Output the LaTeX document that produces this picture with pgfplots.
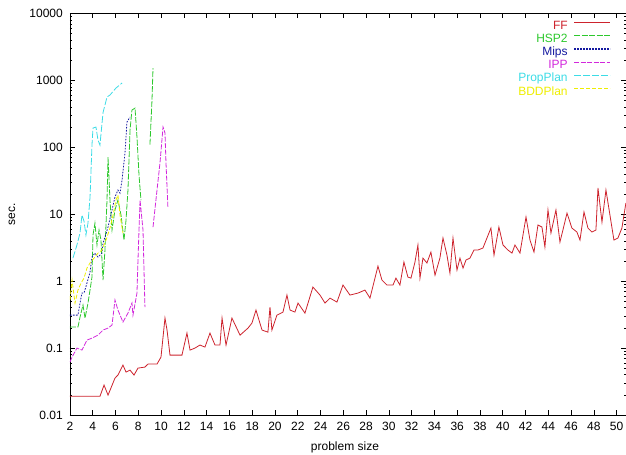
\documentclass[border=0pt]{standalone}
\usepackage{fontspec}
\setmainfont{Liberation Sans}
\usepackage{pgfplots}
\pgfplotsset{compat=1.18}
\definecolor{ffred}{RGB}{205,35,45}
\definecolor{hspgreen}{RGB}{45,200,45}
\definecolor{mipsblue}{RGB}{20,25,160}
\definecolor{ippmag}{RGB}{210,40,220}
\definecolor{propcyan}{RGB}{60,220,230}
\definecolor{bddyellow}{RGB}{238,238,0}
\begin{document}
\fontsize{12}{14}\selectfont
\begin{tikzpicture}
\begin{axis}[
  scale only axis,
  width=556pt, height=401.5pt,
  ymode=log,
  xmin=2, xmax=50.82, ymin=0.01, ymax=10000,
  xtick={2,4,...,50},
  log ticks with fixed point,
  /pgf/number format/1000 sep={},
  /pgf/number format/assume math mode=true,
  tick align=inside,
  major tick length=5pt, minor tick length=2.5pt,
  axis line style={line width=0.9pt},
  tick style={line width=0.7pt, black},
  tick label style={font=\fontsize{12}{14}\selectfont},
  xticklabel style={yshift=-3pt},
  yticklabel style={xshift=-3pt},
  xlabel={problem size},
  ylabel={sec.},
  xlabel style={at={(axis description cs:0.4946,-0.0797)}, anchor=center, font=\fontsize{12}{14}\selectfont},
  ylabel style={at={(axis description cs:-0.1043,0.5)}, anchor=center, font=\fontsize{12}{14}\selectfont},
  legend cell align=right,
  legend plot pos=right,
  legend image code/.code={\draw[#1, line width=1.1pt] (0pt,3.5pt) -- (36pt,3.5pt);},
  legend style={draw=none, fill=none, at={(0.978,0.99)}, anchor=north east,
    font=\fontsize{12}{14}\selectfont, row sep=0pt, column sep=5pt,
    nodes={inner sep=0.8pt, text height=9pt, text depth=2.5pt}},
  every axis plot/.append style={line width=0.8pt},
]
% FF
\addplot[color=ffred] coordinates {
(2,0.019) (4.63,0.019) (4.99,0.028) (5.34,0.0198) (5.95,0.0356) (6.21,0.0395)
(6.65,0.0557) (6.92,0.0438) (7.27,0.0469) (7.62,0.0395) (7.97,0.0502) (8.58,0.052)
(8.85,0.0577) (9.64,0.0577) (9.99,0.0733) (10.34,0.281) (10.52,0.186) (10.78,0.0785)
(11.83,0.0785) (12.27,0.1675) (12.54,0.0933) (12.97,0.1) (13.41,0.111) (13.85,0.1035)
(14.29,0.1675) (14.73,0.111) (15.17,0.111) (15.35,0.281) (15.70,0.111) (16.22,0.281)
(16.93,0.156) (17.63,0.199) (17.98,0.237) (18.33,0.37) (18.86,0.186) (19.38,0.173)
(19.56,0.41) (19.73,0.186) (20.17,0.311) (20.70,0.345) (21.05,0.62) (21.32,0.37)
(21.75,0.345) (22.02,0.471) (22.63,0.333) (23.33,0.817) (23.95,0.62) (24.39,0.471)
(24.83,0.558) (25.44,0.487) (25.97,0.875) (26.58,0.62) (27.29,0.664) (27.90,0.736)
(28.34,0.558) (29.04,1.68) (29.39,1.04) (29.83,0.875) (30.36,0.875) (30.62,1.11)
(30.97,0.875) (31.32,1.93) (31.67,1.15) (31.94,1.11) (32.29,1.93) (32.55,3.47)
(32.73,1.11) (32.99,2.21) (33.34,1.87) (33.69,2.72) (34.05,1.23) (34.48,2.21)
(34.75,4.41) (35.10,2.45) (35.36,1.32) (35.63,4.41) (35.98,1.47) (36.24,2.21)
(36.51,1.57) (36.77,2.07) (37.12,2.21) (37.47,2.92) (37.82,2.92) (38.26,3.13)
(38.61,4.41) (38.96,6.22) (39.23,2.45) (39.66,6.44) (40.02,3.47) (40.45,2.92)
(40.81,2.63) (41.07,3.47) (41.51,2.63) (42.04,9.08) (42.39,4.11) (42.74,2.72)
(43.09,6.90) (43.44,6.44) (43.70,3.24) (43.97,11.6) (44.23,5.24) (44.67,11.6)
(45.02,3.84) (45.28,5.81) (45.64,10.4) (46.07,6.22) (46.51,5.42) (46.78,4.11)
(47.13,10.8) (47.48,6.22) (47.83,5.42) (48.18,5.81) (48.36,24.7) (48.71,7.64)
(49.06,23.0) (49.41,9.73) (49.76,4.11) (50.11,4.41) (50.46,6.22) (50.81,14.7)
};
% HSP2
\addplot[color=hspgreen, dash pattern=on 6pt off 1.5pt] coordinates {
(2,0.206) (2.70,0.206) (2.88,0.29) (3.14,0.44) (3.32,0.28) (3.58,0.47) (3.76,0.74)
(3.93,1.15) (4.02,4.89) (4.19,7.38) (4.37,3.47) (4.55,5.81) (4.72,4.11) (4.90,1.04)
(5.07,2.92) (5.25,16.3) (5.34,71.6) (5.51,16.3) (5.69,5.81) (5.95,11.6) (6.21,16.3)
(6.48,9.73) (6.74,4.11) (6.92,8.19) (7.09,23.0) (7.27,181) (7.44,361) (7.71,386)
(7.88,142.6) (8.06,38.5) (8.23,16.3)
};
\addplot[color=hspgreen, dash pattern=on 6pt off 1.5pt, forget plot] coordinates {
(9.02,110) (9.20,509) (9.29,1530)
};
% Mips
\addplot[color=mipsblue, dash pattern=on 1.6pt off 1.4pt] coordinates {
(2,0.311) (2.70,0.311) (2.88,0.471) (3.05,0.664) (3.23,0.664) (3.49,0.937) (3.76,1.37)
(3.93,2.29) (4.19,2.63) (4.46,2.29) (4.81,2.63) (4.90,3.72) (5.07,4.56) (5.34,6.44)
(5.69,11.6) (5.95,18.1) (6.21,23.0) (6.39,20.7) (6.57,32.5) (6.83,82.2) (7.00,239)
(7.27,284)
};
% IPP
\addplot[color=ippmag, dash pattern=on 5pt off 1.5pt] coordinates {
(2,0.0618) (2.18,0.0733) (2.61,0.1) (3.05,0.0933) (3.49,0.1315) (3.93,0.141)
(4.46,0.156) (4.90,0.186) (5.34,0.199) (5.69,0.221) (5.95,0.523) (6.21,0.37)
(6.65,0.245) (7.09,0.333) (7.44,0.471) (7.53,0.311) (7.88,0.664) (7.97,2.07)
(8.15,16.3) (8.41,5.81) (8.58,0.41)
};
\addplot[color=ippmag, dash pattern=on 5pt off 1.5pt, forget plot] coordinates {
(9.29,6.44) (9.64,23) (9.90,58.2) (10.17,201) (10.34,164) (10.43,58) (10.60,12.4)
};
% PropPlan
\addplot[color=propcyan, dash pattern=on 7pt off 2pt] coordinates {
(2.26,2.21) (2.61,3.47) (2.88,5.24) (3.05,9.73) (3.23,7.9) (3.40,4.89) (3.58,7.38)
(3.76,18.1) (3.93,108) (4.02,194) (4.28,201) (4.46,128) (4.63,108) (4.90,330)
(5.25,565) (5.51,605) (6.04,770) (6.57,915)
};
% BDDPlan
\addplot[color=bddyellow, dash pattern=on 4pt off 2pt] coordinates {
(2,0.52) (2.18,1.04) (2.44,0.47) (2.70,0.736) (2.97,0.937) (3.23,1.11) (3.49,1.57)
(3.76,1.87) (4.11,2.21) (4.46,2.63) (4.81,2.92) (5.16,4.11) (5.51,6.22) (5.78,9.73)
(6.04,16.3) (6.21,19.4) (6.39,9.73) (6.65,5.24)
};
\legend{\textcolor{ffred}{FF},\textcolor{hspgreen}{HSP2},\textcolor{mipsblue}{Mips},\textcolor{ippmag}{IPP},\textcolor{propcyan}{PropPlan},\textcolor{bddyellow}{BDDPlan}}
\end{axis}
\pgfresetboundingbox
\path ([xshift=-70pt,yshift=-40pt]current axis.south west) rectangle ([yshift=13.5pt]current axis.north east);
\end{tikzpicture}
\end{document}
